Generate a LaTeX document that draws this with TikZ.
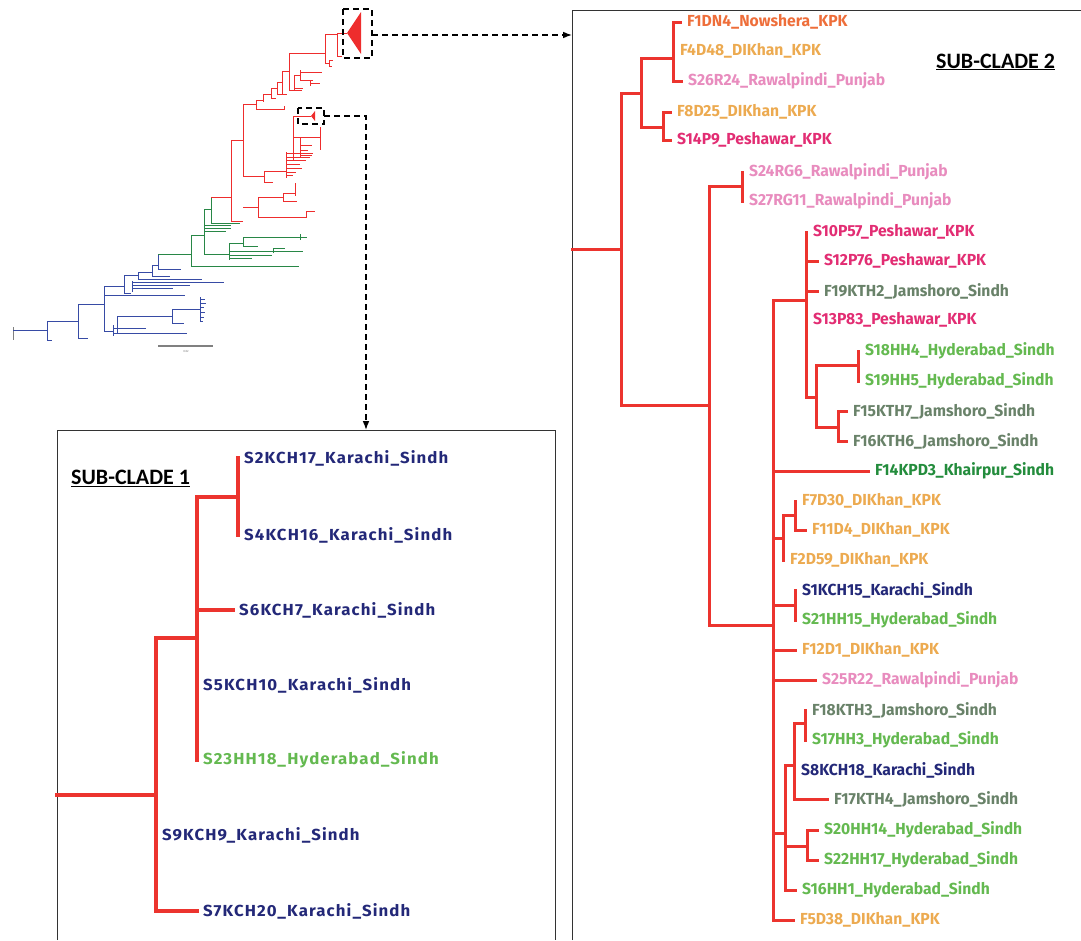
\documentclass[tikz,border=0pt]{standalone}
\usepackage{fontspec}
\setmainfont{Fira Sans}
\newfontfamily\leaffont[FakeStretch=0.98]{Fira Sans}
\newfontfamily\leafwide[FakeStretch=1.05,LetterSpace=7]{Fira Sans}
\newfontfamily\cladefont{Carlito}
\usepackage{tikz}
\usetikzlibrary{arrows.meta,positioning}
\definecolor{brred}{RGB}{236,52,46}
\definecolor{ovred}{RGB}{238,45,45}
\definecolor{ovgreen}{RGB}{40,135,70}
\definecolor{ovblue}{RGB}{55,75,165}
\definecolor{nowc}{RGB}{238,110,58}
\definecolor{dikc}{RGB}{236,170,80}
\definecolor{rwpc}{RGB}{232,140,190}
\definecolor{pshc}{RGB}{226,45,115}
\definecolor{jamc}{RGB}{105,130,105}
\definecolor{hydc}{RGB}{100,185,80}
\definecolor{khpc}{RGB}{35,140,60}
\definecolor{khic}{RGB}{35,40,120}

\begin{document}
\begin{tikzpicture}[x=1pt,y=-1pt,>=Latex,
  br/.style={line width=3pt,draw=brred,line cap=rect},
  ov/.style={line width=0.9pt},
  lf/.style={anchor=west,inner xsep=7pt,inner ysep=0pt,font={\leaffont\bfseries\fontsize{16}{16}\selectfont}},
  lfw/.style={anchor=west,inner xsep=6pt,inner ysep=0pt,font={\leafwide\bfseries\fontsize{16}{16}\selectfont}},
  now/.style={text=nowc}, dik/.style={text=dikc}, rwp/.style={text=rwpc}, psh/.style={text=pshc},
  jam/.style={text=jamc}, hyd/.style={text=hydc}, khp/.style={text=khpc}, khi/.style={text=khic},
  zoomline/.style={line width=1.3pt,dash pattern=on 6pt off 4pt},
  framebox/.style={line width=1pt,draw=black!80}]
\useasboundingbox (0,0) rectangle (1081,940);

% overview tree
\draw[ov,gray] (13,327) -- (13,340);
\draw[ov,ovblue]
 (13,330) -- (47,330) (47,321) -- (47,340) (47,340) -- (52,340) (47,321) -- (78,321)
 (78,304) -- (78,338) (78,338) -- (88,338) (78,304) -- (104,304)
 (104,286) -- (104,331) (104,331) -- (113,331) (113,325) -- (113,336)
 (113,328) -- (146,328) (113,333) -- (187,333)
 (117,316) -- (117,333) (117,316) -- (172,316)
 (172,309) -- (172,323) (172,309) -- (200,309) (172,323) -- (184,323)
 (200,297) -- (200,322) (200,299) -- (205,299) (200,303) -- (206,303) (200,307) -- (204,307)
 (200,312) -- (205,312) (200,317) -- (204,317) (200,321) -- (203,321)
 (104,286) -- (124,286) (104,295) -- (185,295)
 (124,275) -- (124,293) (124,293) -- (131,293) (124,275) -- (138,275)
 (138,272) -- (138,279) (138,272) -- (152,272) (138,279) -- (202,279)
 (152,265) -- (152,276) (152,265) -- (158,265) (152,276) -- (170,276)
 (158,254) -- (158,269) (158,269) -- (181,269)
 (132,281) -- (132,292) (132,282) -- (224,282) (132,285) -- (190,285) (132,288) -- (173,288);
\draw[ov,ovgreen]
 (158,254) -- (191,254) (191,235) -- (191,266) (191,266) -- (299,266) (191,235) -- (204,235)
 (204,209) -- (204,254) (204,209) -- (211,209) (211,197) -- (211,223) (211,223) -- (240,223)
 (204,225) -- (231,225) (204,228) -- (231,228) (204,231) -- (226,231)
 (204,254) -- (229,254) (229,243) -- (229,260)
 (229,243) -- (243,243) (243,237) -- (243,246) (243,237) -- (307,237) (243,246) -- (258,246)
 (300,234) -- (300,240)
 (229,251) -- (303,251) (273,248) -- (273,253) (273,248) -- (285,248)
 (229,255) -- (272,255) (229,258) -- (252,258);
\draw[ov,ovred]
 (211,197) -- (231,197) (231,140) -- (231,221) (231,221) -- (243,221) (231,140) -- (243,140)
 (243,104) -- (243,176) (243,176) -- (264,176) (264,171) -- (264,182) (264,182) -- (273,182)
 (264,171) -- (286,171) (286,152) -- (286,178)
 (286,153) -- (313,153) (286,157) -- (310,157) (286,160) -- (306,160) (286,164) -- (300,164)
 (286,168) -- (302,168) (286,172) -- (296,172) (286,175) -- (293,175)
 (243,207) -- (258,207) (258,197) -- (258,217)
 (258,197) -- (283,197) (283,193) -- (283,201) (283,193) -- (295,193) (295,183) -- (295,196) (283,201) -- (297,201)
 (258,217) -- (306,217) (306,211) -- (306,218) (306,211) -- (315,211)
 (243,104) -- (256,104) (256,100) -- (256,109) (256,109) -- (284,109) (284,106) -- (284,110)
 (256,100) -- (263,100) (263,94) -- (263,102) (263,94) -- (271,94)
 (271,88) -- (271,98) (271,98) -- (276,98) (271,88) -- (277,88)
 (277,82) -- (277,94) (277,94) -- (287,94) (277,82) -- (282,82)
 (282,71) -- (282,94) (282,71) -- (289,71)
 (289,53) -- (289,90) (289,53) -- (325,53)
 (325,34) -- (325,63) (325,34) -- (337,34) (337,33) -- (337,56) (337,33) -- (347,33) (337,56) -- (342,56)
 (325,63) -- (329,63) (329,60) -- (329,66) (329,60) -- (333,60) (329,66) -- (332,66)
 (289,90) -- (302,90) (294,75) -- (294,90) (294,75) -- (300,75)
 (300,70) -- (300,80) (300,72) -- (322,72) (300,80) -- (313,80)
 (310,80) -- (310,86) (310,83) -- (320,83) (295,88) -- (303,88)
 (286,160) -- (293,160) (293,116) -- (293,160) (293,116) -- (311,116)
 (293,137) -- (320,137) (320,127) -- (320,150) (300,137) -- (300,158)
 (300,145) -- (312,145) (300,150) -- (308,150) (300,155) -- (312,155);
\fill[ovred] (347,33) -- (361,12) -- (361,54) -- cycle;
\fill[ovred] (311,116) -- (315,111) -- (315,121) -- cycle;
\draw[line width=1.3pt,gray] (158,346) -- (213,346);
\node[font=\fontsize{3}{3}\selectfont,text=gray] (scl) at (186,351) {0.02};

% zoom frames and arrows
\draw[zoomline] (343,9) rectangle (372,58);
\draw[zoomline] (298,108) rectangle (324,124);
\draw[framebox] (572,940) -- (572,10) -- (1081,10);
\draw[framebox] (57,940) -- (57,430) -- (555,430) -- (555,940);
\coordinate (sc2in) at (572,35);
\coordinate (sc1in) at (366,430);
\draw[zoomline,->] (372,35) -- (sc2in);
\draw[zoomline,->] (324,116) -| (sc1in);

\node[font={\cladefont\bfseries\fontsize{22}{22}\selectfont},anchor=west,inner sep=0pt] (sc2) at (936,62) {\underline{SUB-CLADE 2}};
\node[font={\cladefont\bfseries\fontsize{22}{22}\selectfont},anchor=west,inner sep=0pt] (sc1) at (71,478) {\underline{SUB-CLADE 1}};

% sub-clade 2 leaves
\node[lf,now] (f1dn4) at (680,22) {F1DN4\_Nowshera\_KPK};
\node[lf,dik] (f4d48) at (673,51) {F4D48\_DIKhan\_KPK};
\node[lf,rwp] (s26r24) at (681,81) {S26R24\_Rawalpindi\_Punjab};
\node[lf,dik] (f8d25) at (670,112) {F8D25\_DIKhan\_KPK};
\node[lf,psh] (s14p9) at (670,140) {S14P9\_Peshawar\_KPK};
\node[lf,rwp] (s24rg6) at (742,172) {S24RG6\_Rawalpindi\_Punjab};
\node[lf,rwp] (s27rg11) at (742,201) {S27RG11\_Rawalpindi\_Punjab};
\node[lf,psh] (s10p57) at (806,232) {S10P57\_Peshawar\_KPK};
\node[lf,psh] (s12p76) at (817,261) {S12P76\_Peshawar\_KPK};
\node[lf,jam] (f19kth2) at (817,291) {F19KTH2\_Jamshoro\_Sindh};
\node[lf,psh] (s13p83) at (806,320) {S13P83\_Peshawar\_KPK};
\node[lf,hyd] (s18hh4) at (858,351) {S18HH4\_Hyderabad\_Sindh};
\node[lf,hyd] (s19hh5) at (858,381) {S19HH5\_Hyderabad\_Sindh};
\node[lf,jam] (f15kth7) at (846,411) {F15KTH7\_Jamshoro\_Sindh};
\node[lf,jam] (f16kth6) at (846,441) {F16KTH6\_Jamshoro\_Sindh};
\node[lf,khp] (f14kpd3) at (868,471) {F14KPD3\_Khairpur\_Sindh};
\node[lf,dik] (f7d30) at (795,501) {F7D30\_DIKhan\_KPK};
\node[lf,dik] (f11d4) at (805,530) {F11D4\_DIKhan\_KPK};
\node[lf,dik] (f2d59) at (783,560) {F2D59\_DIKhan\_KPK};
\node[lf,khi] (s1kch15) at (795,590) {S1KCH15\_Karachi\_Sindh};
\node[lf,hyd] (s21hh15) at (795,620) {S21HH15\_Hyderabad\_Sindh};
\node[lf,dik] (f12d1) at (795,650) {F12D1\_DIKhan\_KPK};
\node[lf,rwp] (s25r22) at (815,680) {S25R22\_Rawalpindi\_Punjab};
\node[lf,jam] (f18kth3) at (805,710) {F18KTH3\_Jamshoro\_Sindh};
\node[lf,hyd] (s17hh3) at (805,740) {S17HH3\_Hyderabad\_Sindh};
\node[lf,khi] (s8kch18) at (794,770) {S8KCH18\_Karachi\_Sindh};
\node[lf,jam] (f17kth4) at (827,799) {F17KTH4\_Jamshoro\_Sindh};
\node[lf,hyd] (s20hh14) at (817,830) {S20HH14\_Hyderabad\_Sindh};
\node[lf,hyd] (s22hh17) at (817,860) {S22HH17\_Hyderabad\_Sindh};
\node[lf,hyd] (s16hh1) at (795,890) {S16HH1\_Hyderabad\_Sindh};
\node[lf,dik] (f5d38) at (793,920) {F5D38\_DIKhan\_KPK};

% sub-clade 2 branches
\draw[br] (572,249) -- (621,249) (621,93) -- (621,405);
\draw[br] (621,93) -- (641,93) (641,58) -- (641,127);
\draw[br] (641,58) -- (673,58) (673,22) -- (673,81) (673,22) -- (f1dn4.west) (673,81) -- (s26r24.west);
\draw[br] (641,127) -- (663,127) (663,112) -- (663,140) (663,112) -- (f8d25.west) (663,140) -- (s14p9.west);
\draw[br] (621,405) -- (709,405) (709,186) -- (709,625);
\draw[br] (709,186) -- (742,186) (s24rg6.west) -- (s27rg11.west);
\draw[br] (709,625) -- (773,625) (773,300) -- (773,920);
\draw[br] (773,300) -- (806,300) (s10p57.west) -- (806,397);
\draw[br] (806,261) -- (s12p76.west) (806,291) -- (f19kth2.west);
\draw[br] (806,397) -- (816,397) (816,365) -- (816,427);
\draw[br] (816,365) -- (858,365) (s18hh4.west) -- (s19hh5.west);
\draw[br] (816,427) -- (838,427) (838,411) -- (838,441) (838,411) -- (f15kth7.west) (838,441) -- (f16kth6.west);
\draw[br] (773,471) -- (f14kpd3.west);
\draw[br] (773,538) -- (783,538) (783,515) -- (f2d59.west) (783,515) -- (795,515) (f7d30.west) -- (795,530) (795,530) -- (f11d4.west);
\draw[br] (773,605) -- (795,605) (s1kch15.west) -- (s21hh15.west);
\draw[br] (773,650) -- (f12d1.west) (773,680) -- (s25r22.west);
\draw[br] (773,833) -- (785,833) (785,765) -- (785,890);
\draw[br] (785,765) -- (794,765) (794,723) -- (794,799) (794,799) -- (f17kth4.west);
\draw[br] (794,723) -- (805,723) (f18kth3.west) -- (s17hh3.west);
\draw[br] (785,846) -- (807,846) (807,830) -- (807,860) (807,830) -- (s20hh14.west) (807,860) -- (s22hh17.west);
\draw[br] (785,890) -- (s16hh1.west) (773,920) -- (f5d38.west);

% sub-clade 1 leaves
\node[lfw,khi] (s2kch17) at (238,458) {S2KCH17\_Karachi\_Sindh};
\node[lfw,khi] (s4kch16) at (238,535) {S4KCH16\_Karachi\_Sindh};
\node[lfw,khi] (s6kch7) at (233,610) {S6KCH7\_Karachi\_Sindh};
\node[lfw,khi] (s5kch10) at (197,685) {S5KCH10\_Karachi\_Sindh};
\node[lfw,hyd] (s23hh18) at (197,760) {S23HH18\_Hyderabad\_Sindh};
\node[lfw,khi] (s9kch9) at (156,835) {S9KCH9\_Karachi\_Sindh};
\node[lfw,khi] (s7kch20) at (197,911) {S7KCH20\_Karachi\_Sindh};

% sub-clade 1 branches
\draw[br,line width=3.5pt] (57,795) -- (156,795) (156,638) -- (156,911) (156,911) -- (s7kch20.west);
\draw[br,line width=3.5pt] (156,638) -- (197,638) (197,497) -- (s23hh18.west);
\draw[br,line width=3.5pt] (197,497) -- (238,497) (s2kch17.west) -- (s4kch16.west);
\draw[br,line width=3.5pt] (197,610) -- (s6kch7.west);
\end{tikzpicture}
\end{document}
